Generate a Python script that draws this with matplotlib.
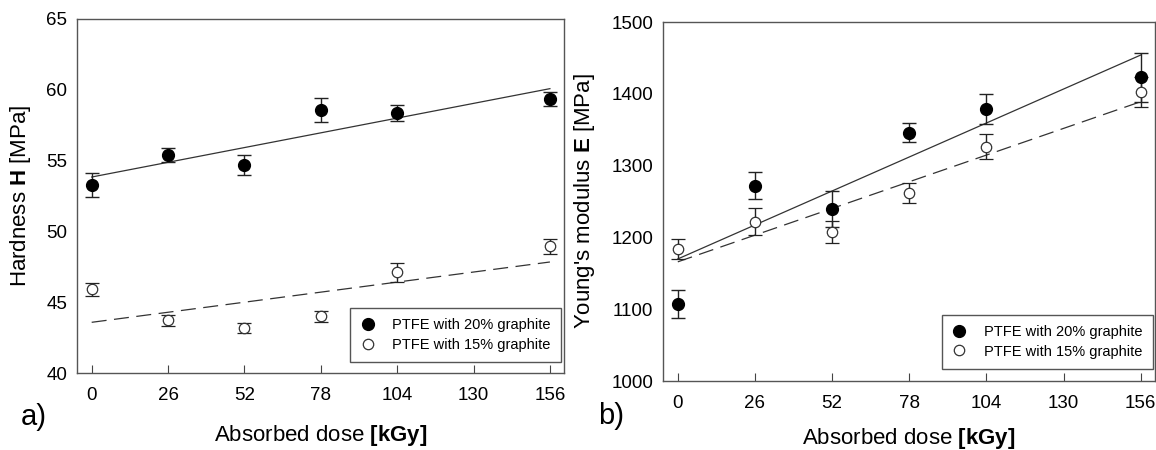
import matplotlib.pyplot as plt

plt.rcParams['font.family'] = ['Liberation Sans', 'DejaVu Sans']
plt.rcParams['mathtext.fontset'] = 'custom'
plt.rcParams['mathtext.rm'] = 'Liberation Sans'
plt.rcParams['mathtext.bf'] = 'Liberation Sans:bold'

dose = [0, 26, 52, 78, 104, 156]
ticks = [0, 26, 52, 78, 104, 130, 156]

# hardness [MPa]
h20 = [53.25, 55.4, 54.7, 58.55, 58.35, 59.35]
h20_err = [0.85, 0.5, 0.73, 0.85, 0.58, 0.52]
h15 = [45.9, 43.72, 43.18, 44.0, 47.1, 48.95]
h15_err = [0.47, 0.4, 0.35, 0.38, 0.68, 0.54]
h20_fit = [53.84, 60.08]
h15_fit = [43.58, 47.84]

# Young's modulus [MPa]
e20 = [1107, 1272, 1240, 1346, 1379, 1423]
e20_err = [19.5, 19, 25, 12.7, 20.6, 34]
e15 = [1184, 1222, 1208, 1262, 1326, 1403]
e15_err = [14, 18.6, 15.5, 13.5, 17.4, 21]
e20_fit = [1170, 1454]
e15_fit = [1166, 1389]

lab20 = 'PTFE with 20% graphite'
lab15 = 'PTFE with 15% graphite'
fit_x = [0, 156]

fig = plt.figure(figsize=(11.56, 4.5), dpi=100)
ax1 = fig.add_axes([0.0666, 0.1711, 0.4213, 0.7867])
ax2 = fig.add_axes([0.5735, 0.1533, 0.4256, 0.7978])


def panel(ax, y20, e20_, y15, e15_, f20, f15, ylim, yticks, ylabel, letter,
          ylab_x, let_xy, leg_anchor, xlpad):
    ax.plot(fit_x, f20, color='#333333', lw=0.9, zorder=2)
    ax.plot(fit_x, f15, color='#333333', lw=0.9, dashes=(12, 6), zorder=2)
    ax.errorbar(dose, y20, yerr=e20_, fmt='o', color='black', ms=8.5,
                mfc='black', mec='black', ecolor='#222222', elinewidth=1,
                capsize=5, capthick=1, label=lab20, zorder=3)
    ax.errorbar(dose, y15, yerr=e15_, fmt='o', color='black', ms=7.5,
                mfc='white', mec='#333333', mew=0.9, ecolor='#222222',
                elinewidth=1, capsize=5, capthick=1, label=lab15, zorder=3)
    ax.set_xlim(-5, 160.8)
    ax.set_ylim(*ylim)
    ax.set_xticks(ticks)
    ax.set_yticks(yticks)
    ax.tick_params(axis='x', direction='in', length=6, width=0.8,
                   color='#444444', labelsize=13.5, pad=10)
    ax.tick_params(axis='y', length=0, labelsize=13.5, pad=7)
    for s in ax.spines.values():
        s.set_color('#555555')
        s.set_linewidth(1)
    ax.set_xlabel('Absorbed dose $\\mathbf{[kGy]}$', fontsize=16,
                  labelpad=xlpad)
    ax.set_ylabel(ylabel, fontsize=16)
    ax.yaxis.set_label_coords(ylab_x, 0.5)
    handles, labels = ax.get_legend_handles_labels()
    handles = [h[0] for h in handles]
    leg = ax.legend(handles, labels, loc='lower right', fontsize=10.5,
                    fancybox=False, edgecolor='#555555', framealpha=1,
                    borderpad=0.7, handlelength=1.0, handletextpad=1.2,
                    labelspacing=0.4, borderaxespad=0,
                    bbox_to_anchor=leg_anchor)
    leg.get_frame().set_linewidth(1)
    ax.text(let_xy[0], let_xy[1], letter, transform=ax.transAxes, fontsize=21,
            va='center', ha='left')


panel(ax1, h20, h20_err, h15, h15_err, h20_fit, h15_fit,
      (40, 65), [40, 45, 50, 55, 60, 65], 'Hardness $\\mathbf{H}$ [MPa]', 'a)',
      -0.09, (-0.115, -0.125), (0.994, 0.031), 14)
panel(ax2, e20, e20_err, e15, e15_err, e20_fit, e15_fit,
      (1000, 1500), [1000, 1100, 1200, 1300, 1400, 1500],
      "Young's modulus $\\mathbf{E}$ [MPa]", 'b)',
      -0.134, (-0.132, -0.097), (0.996, 0.034), 10)

fig.savefig('out.png', dpi=100)
